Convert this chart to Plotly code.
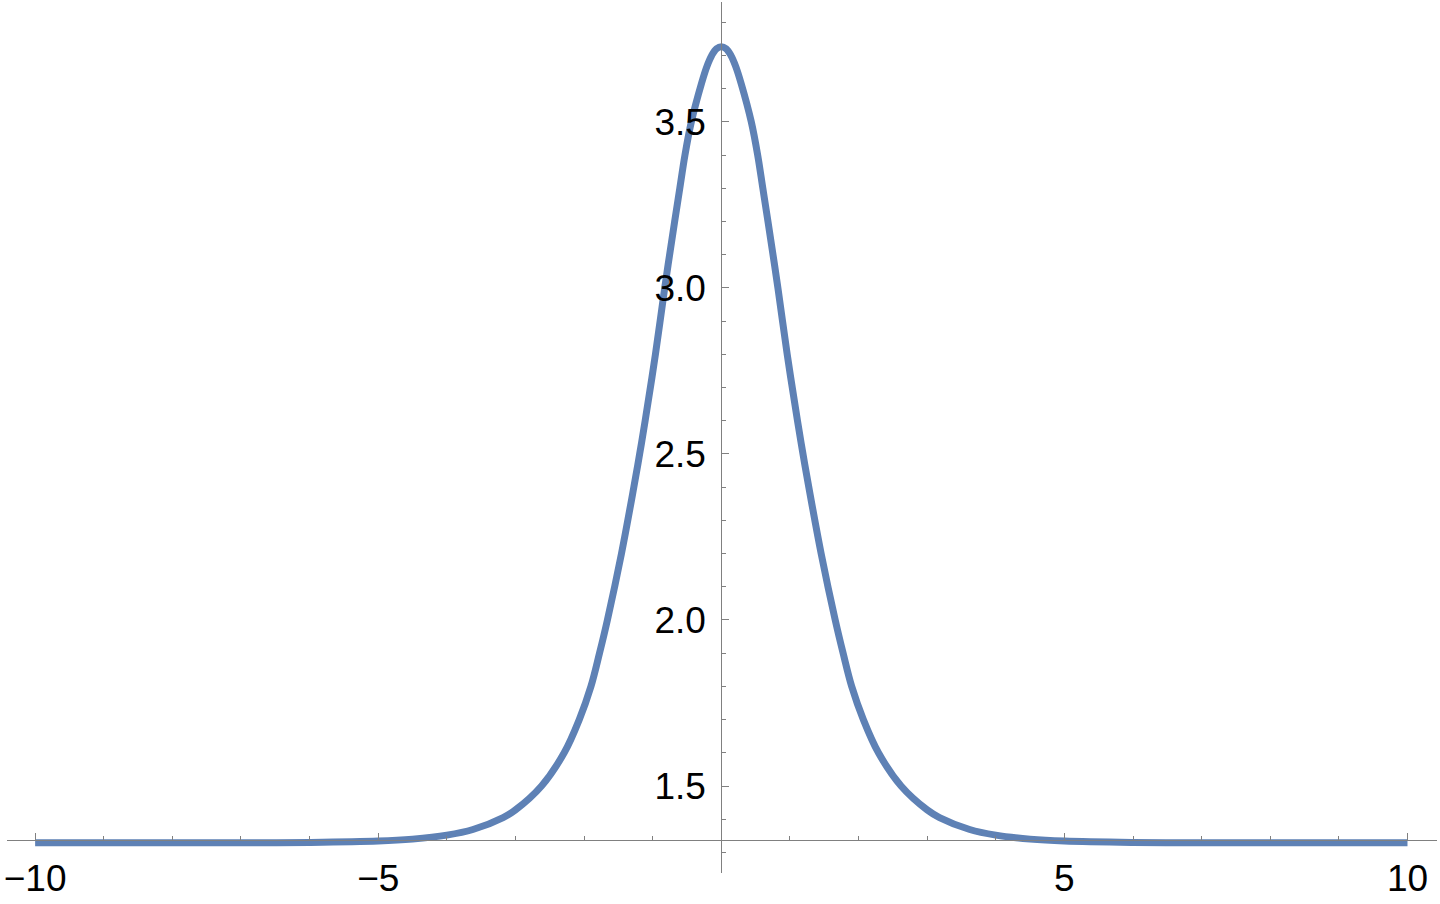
import plotly.graph_objects as go

# curve (x, y), peak near x=0
x_vals = [-10, -9, -8, -7, -6, -5, -4.5, -4.0, -3.62, -3.18, -3.0, -2.62, -2.29, -2.07, -1.9, -1.775,
          -1.66, -1.455, -1.275, -1.19, -1.11, -0.96, -0.825, -0.68, -0.605, -0.53, -0.437, -0.29, -0.21,
          -0.14, -0.07, 0,
          0.07, 0.14, 0.21, 0.29, 0.437, 0.53, 0.605, 0.68, 0.825, 0.96, 1.11, 1.19, 1.275, 1.455, 1.66,
          1.775, 1.9, 2.07, 2.29, 2.62, 3.0, 3.18, 3.62, 4.0, 4.5, 5, 6, 7, 8, 9, 10]
y_vals = [1.329, 1.329, 1.329, 1.329, 1.330, 1.334, 1.340, 1.352, 1.369, 1.405, 1.428, 1.5, 1.6, 1.7, 1.8, 1.9,
          2.0, 2.2, 2.4, 2.5, 2.6, 2.8, 3.0, 3.2, 3.3, 3.4, 3.5, 3.615, 3.667,
          3.70, 3.72, 3.726,
          3.72, 3.70, 3.667, 3.615, 3.5, 3.4, 3.3, 3.2, 3.0, 2.8, 2.6, 2.5, 2.4, 2.2, 2.0,
          1.9, 1.8, 1.7, 1.6, 1.5, 1.428, 1.405, 1.369, 1.352, 1.340, 1.334, 1.330, 1.329, 1.329, 1.329, 1.329]

x_ticks = [-10, -5, 5, 10]
x_minor = [-9, -8, -7, -6, -4, -3, -2, -1, 1, 2, 3, 4, 6, 7, 8, 9]
y_ticks = [1.5, 2.0, 2.5, 3.0, 3.5]
y_minor = [1.3, 1.4, 1.6, 1.7, 1.8, 1.9, 2.1, 2.2, 2.3, 2.4, 2.6, 2.7, 2.8, 2.9,
           3.1, 3.2, 3.3, 3.4, 3.6, 3.7, 3.8]

axis_col = '#808080'
font = dict(family='Liberation Sans, Arial, sans-serif', size=37, color='black')

fig = go.Figure()
fig.add_trace(go.Scatter(x=x_vals, y=y_vals, mode='lines',
                         line=dict(color='#5E81B5', width=7, shape='spline', smoothing=1.0),
                         showlegend=False, hoverinfo='skip'))

fig.update_layout(
    width=1440, height=904,
    margin=dict(l=7, r=3, t=2, b=31),
    paper_bgcolor='white', plot_bgcolor='white',
    font=font,
    xaxis=dict(range=[-10.41, 10.43], anchor='free', position=0.0379, automargin=False,
               showgrid=False, zeroline=False, showline=True, linecolor=axis_col, linewidth=1,
               tickmode='array', tickvals=x_ticks, ticktext=['\u221210', '\u22125', '5', '10'],
               ticks='inside', ticklen=7, tickcolor=axis_col, tickwidth=1, ticklabelstandoff=6,
               minor=dict(tickvals=x_minor, ticks='inside', ticklen=4, tickcolor=axis_col, tickwidth=1),
               tickfont=font),
    yaxis=dict(range=[1.238, 3.861], anchor='free', position=0.4995, automargin=False,
               showgrid=False, zeroline=False, showline=True, linecolor=axis_col, linewidth=1,
               tickmode='array', tickvals=y_ticks, ticktext=['1.5', '2.0', '2.5', '3.0', '3.5'],
               ticks='inside', ticklen=7, tickcolor=axis_col, tickwidth=1, ticklabelstandoff=8,
               minor=dict(tickvals=y_minor, ticks='inside', ticklen=4, tickcolor=axis_col, tickwidth=1),
               tickfont=font),
)

# page body has an 8px default margin; drop it so the figure sits at the window corner
fig.write_html("out.html", config={'displayModeBar': False},
               post_script="document.body.style.margin='0';")
